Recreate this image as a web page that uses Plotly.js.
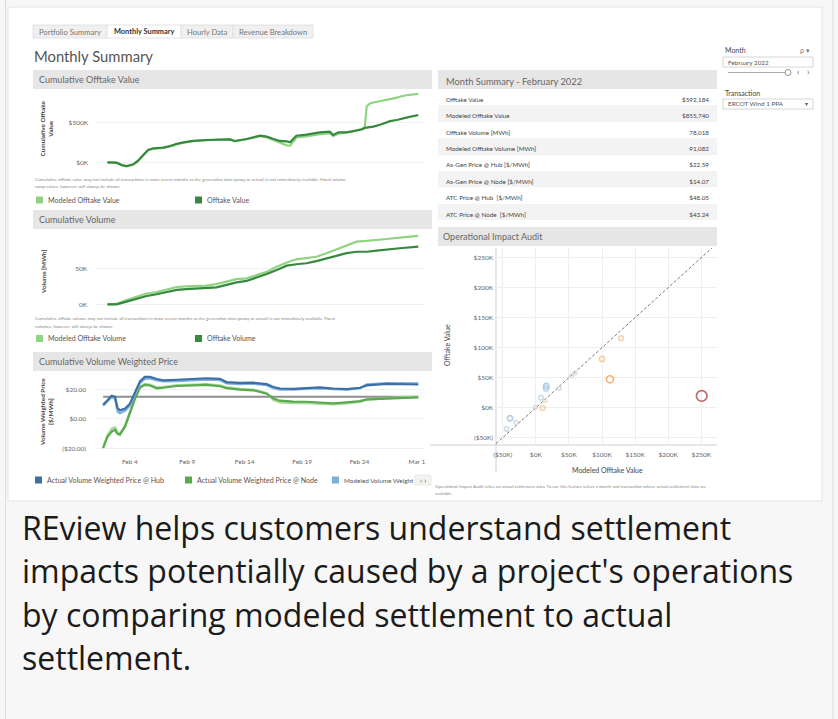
<!DOCTYPE html>
<html><head><meta charset="utf-8">
<script src="https://cdn.plot.ly/plotly-3.0.1.min.js"></script>
<style>html,body{margin:0;padding:0;background:#f7f7f7;}#chart{width:838px;height:719px;}</style>
</head><body><div id="chart"></div>
<script>
// ---------------- DATA ----------------
const valueDates = ['2022-02-02 01:00','2022-02-02 20:00','2022-02-03 07:00','2022-02-03 17:00','2022-02-04 07:00','2022-02-04 17:00','2022-02-05 04:00','2022-02-05 14:00','2022-02-06 01:00','2022-02-06 22:00','2022-02-07 12:00','2022-02-08 02:00','2022-02-08 16:00','2022-02-09 12:00','2022-02-10 16:00','2022-02-11 20:00','2022-02-12 17:00','2022-02-13 03:00','2022-02-14 04:00','2022-02-15 08:00','2022-02-15 22:00','2022-02-16 12:00','2022-02-17 02:00','2022-02-17 16:00','2022-02-17 23:00','2022-02-18 12:00','2022-02-19 09:00','2022-02-20 13:00','2022-02-21 10:00','2022-02-21 17:00','2022-02-22 04:00','2022-02-22 21:00','2022-02-23 11:00','2022-02-24 04:00','2022-02-24 11:00','2022-02-24 15:00','2022-02-24 22:00','2022-02-25 05:00','2022-02-25 19:00','2022-02-26 09:00','2022-02-26 16:00','2022-02-27 06:00','2022-02-27 12:00','2022-02-28 02:00','2022-03-01 03:00'];
const modeledOfftakeValue = [0,-6000,-38000,-52000,-30000,15000,88000,150000,172000,180000,200000,225000,245000,265000,278000,285000,286000,262000,288000,328000,315000,280000,238000,212000,208000,310000,325000,352000,362000,330000,358000,368000,385000,415000,430000,700000,735000,748000,762000,780000,790000,808000,820000,838000,855000];
const offtakeValue = [0,-4000,-33000,-46000,-25000,21000,92000,154000,175000,183000,204000,232000,250000,267000,279000,287000,287000,267000,292000,333000,321000,292000,267000,262000,250000,333000,346000,375000,383000,342000,375000,375000,392000,410000,430000,433000,440000,446000,470000,500000,515000,529000,540000,558000,592000];

const volumeDates = ['2022-02-02 01:00','2022-02-02 20:00','2022-02-03 17:00','2022-02-04 14:00','2022-02-05 11:00','2022-02-06 08:00','2022-02-07 05:00','2022-02-08 02:00','2022-02-08 22:00','2022-02-09 19:00','2022-02-10 16:00','2022-02-11 13:00','2022-02-12 10:00','2022-02-13 07:00','2022-02-14 04:00','2022-02-15 01:00','2022-02-15 22:00','2022-02-16 19:00','2022-02-17 16:00','2022-02-18 12:00','2022-02-19 09:00','2022-02-20 06:00','2022-02-21 03:00','2022-02-22 00:00','2022-02-22 21:00','2022-02-23 18:00','2022-02-24 15:00','2022-02-25 12:00','2022-02-26 09:00','2022-02-27 12:00','2022-03-01 03:00'];
const modeledOfftakeVolume = [0,500,6000,10600,15000,17000,21000,24000,25000,25500,26000,28000,31000,35000,36000,40000,45000,52000,58000,62500,64000,66000,71000,76000,81000,87000,88000,89000,90700,92600,95000];
const offtakeVolume = [0,0,3700,8000,11500,14000,16700,20000,21000,22000,22000,23600,27000,30500,32400,37000,42000,47700,53700,55600,57000,60000,64000,68000,71000,73000,73000,74500,76400,77800,80000];

const priceDates = ['2022-02-01 16:00','2022-02-02 01:00','2022-02-02 10:00','2022-02-02 17:00','2022-02-02 22:00','2022-02-03 03:00','2022-02-03 14:00','2022-02-04 00:00','2022-02-04 10:00','2022-02-04 21:00','2022-02-05 07:00','2022-02-05 18:00','2022-02-06 08:00','2022-02-06 22:00','2022-02-08 02:00','2022-02-09 12:00','2022-02-10 16:00','2022-02-11 20:00','2022-02-12 10:00','2022-02-13 14:00','2022-02-14 18:00','2022-02-15 22:00','2022-02-16 12:00','2022-02-17 02:00','2022-02-18 05:00','2022-02-19 09:00','2022-02-20 13:00','2022-02-21 17:00','2022-02-22 21:00','2022-02-24 01:00','2022-02-24 15:00','2022-02-26 09:00','2022-03-01 03:00'];
const hubPrice = [9.5,12.6,15.6,14.9,7.6,5.8,7.0,10.3,17.5,25.3,28.3,28.3,26.9,26.0,26.4,27.0,27.4,27.0,24.8,24.3,24.4,23.4,21.5,20.5,20.3,20.8,21.2,20.5,20.1,21.0,22.6,23.6,23.2];
const modeledHubPrice = [9.0,12.0,14.8,13.5,5.0,3.8,5.5,9.0,16.3,24.0,27.0,27.2,25.9,25.2,25.5,26.1,26.5,26.2,24.0,23.5,23.7,22.7,20.7,19.8,19.7,20.2,20.6,20.0,19.8,20.6,23.3,24.2,24.0];
const nodePrice = [-19.6,-12.0,-8.5,-7.2,-10.0,-10.5,-5.0,3.9,13.1,21.2,23.0,22.5,20.6,21.0,22.2,22.6,22.9,22.0,20.8,19.8,19.3,17.0,13.8,12.3,11.7,11.6,10.8,10.5,11.2,12.0,13.2,13.9,14.6];
const modeledNodePrice = [-19.0,-11.0,-6.5,-5.5,-9.0,-9.8,-4.2,4.5,13.8,21.8,23.6,23.2,21.3,21.6,22.8,23.2,23.5,22.6,21.3,20.3,19.8,17.5,12.8,11.2,10.6,10.6,10.0,9.8,10.5,11.5,12.8,14.0,15.0];
const fixedPriceDates = ['2022-02-01 16:00','2022-03-01 03:00'];
const fixedPrice = [15.0,15.0];
const priceTickDates = ['2022-02-04','2022-02-09','2022-02-14','2022-02-19','2022-02-24','2022-03-01'];
const priceTickLabels = ['Feb 4','Feb 9','Feb 14','Feb 19','Feb 24','Mar 1'];

const summaryLabels = ['Offtake Value','Modeled Offtake Value','Offtake Volume [MWh]','Modeled Offtake Volume [MWh]','As-Gen Price @ Hub [$/MWh]','As-Gen Price @ Node [$/MWh]','ATC Price @ Hub  [$/MWh]','ATC Price @ Node  [$/MWh]'];
const summaryValues = ['$592,184','$855,740','78,018','91,082','$22.59','$14.07','$48.05','$43.24'];

const auditModeled = [250600,112000,100000,128700,15900,15400,-39000,-44000,-30000,-800,7800,10400,14000,35500,54000,59000];
const auditOfftake = [19500,47300,81000,115700,36000,32000,-17700,-35500,-25000,700,16700,-500,11700,32300,52800,57800];
const auditRefLine = [-60000,268000];
const auditTicks = [-50000,0,50000,100000,150000,200000,250000];
const auditTickLabels = ['($50K)','$0K','$50K','$100K','$150K','$200K','$250K'];

// ---------------- HELPERS ----------------
const W = 838, H = 719;
const X = px => px / W;
const Y = py => 1 - py / H;
const F = 'Lato, "Open Sans", sans-serif';
const annotations = [];
const shapes = [];
function txt(text, x, y, size, color, opt) {
  annotations.push(Object.assign({text, x: X(x), y: Y(y), xref: 'paper', yref: 'paper', showarrow: false,
    xanchor: 'left', yanchor: 'middle', font: {family: F, size, color}}, opt || {}));
}
function rect(x0, y0, x1, y1, fill, line, lw, layer) {
  shapes.push({type: 'rect', xref: 'paper', yref: 'paper', x0: X(x0), x1: X(x1), y0: Y(y1), y1: Y(y0),
    fillcolor: fill, line: {color: line || fill, width: lw === undefined ? 0 : lw}, layer: layer || 'below'});
}
function hline(x0, x1, y, color, w) {
  shapes.push({type: 'line', xref: 'paper', yref: 'paper', x0: X(x0), x1: X(x1), y0: Y(y), y1: Y(y), line: {color, width: w || 1}, layer: 'below'});
}
function vline(x, y0, y1, color, w) {
  shapes.push({type: 'line', xref: 'paper', yref: 'paper', x0: X(x), x1: X(x), y0: Y(y0), y1: Y(y1), line: {color, width: w || 1}, layer: 'below'});
}

// page frame
vline(5.5, 0, 719, '#dcdcdc');
vline(833, 0, 719, '#dcdcdc');
rect(8, 7, 822, 501, '#ffffff', '#e4e4e4', 1);

// tabs
rect(33, 25, 107, 38, '#f0f0f0', '#dddddd', 0.8);
rect(107, 25, 181, 38, '#ffffff', '#dddddd', 0.8);
rect(181, 25, 233, 38, '#f0f0f0', '#dddddd', 0.8);
rect(233, 25, 313, 38, '#f0f0f0', '#dddddd', 0.8);
txt('Portfolio Summary', 70, 31.5, 7.6, '#777', {xanchor: 'center'});
txt('<b>Monthly Summary</b>', 144, 31.5, 7.4, '#333', {xanchor: 'center'});
txt('Hourly Data', 207, 31.5, 7.6, '#777', {xanchor: 'center'});
txt('Revenue Breakdown', 273, 31.5, 7.6, '#777', {xanchor: 'center'});

txt('Monthly Summary', 32, 56, 14.8, '#555');

// panel headers
const HB = '#e6e6e6';
rect(33, 70, 432, 89, HB);
txt('Cumulative Offtake Value', 37, 79.5, 9, '#666');
rect(33, 210, 432, 229, HB);
txt('Cumulative Volume', 37, 219.5, 9, '#666');
rect(33, 352, 432, 371, HB);
txt('Cumulative Volume Weighted Price', 37, 361.5, 9, '#666');
rect(438, 227, 717, 246, HB);
txt('Operational Impact Audit', 441, 236.5, 9, '#666');

// y titles
txt('<b>Cumulative Offtake<br>Value</b>', 46.5, 129, 6.4, '#444', {textangle: -90, xanchor: 'center'});
txt('<b>Volume [MWh]</b>', 43, 272, 6.4, '#444', {textangle: -90, xanchor: 'center'});
txt('<b>Volume Weighted Price<br>[$/MWh]</b>', 46, 412, 6.4, '#444', {textangle: -90, xanchor: 'center'});
txt('Offtake Value', 447, 345, 7, '#444', {textangle: -90, xanchor: 'center'});
txt('Modeled Offtake Value', 607, 470, 7, '#444', {xanchor: 'center'});

// footnotes
txt('Cumulative offtake value may not include all transactions in most recent months as the generation data (proxy or actual) is not immediately available. Fixed volume', 33, 180, 4.4, '#888');
txt('swap values, however, will always be shown.', 33, 186.5, 4.4, '#888');
txt('Cumulative offtake volume may not include all transactions in most recent months as the generation data (proxy or actual) is not immediately available. Fixed', 33, 318.5, 4.4, '#888');
txt('volumes, however, will always be shown.', 33, 326.5, 4.4, '#888');
txt('Operational Impact Audit relies on actual settlement data. To use this feature select a month and transaction where actual settlement data are', 433, 486.5, 4.4, '#888');
txt('available.', 433, 493, 4.4, '#888');

// legends
const cModOff = '#8fd383', cOff = '#36893f', cHub = '#3d6fa6', cNode = '#5aa84f', cModHub = '#7fb0dc', cModNode = '#a6dc98';
function legendItem(x, y, color, label, size) {
  rect(x, y - 3.5, x + 7, y + 3.5, color);
  txt(label, x + 10, y, size || 7.1, '#555');
}
legendItem(36, 200, cModOff, 'Modeled Offtake Value');
legendItem(195, 200, cOff, 'Offtake Value');
legendItem(36, 338.5, cModOff, 'Modeled Offtake Volume');
legendItem(195, 338.5, cOff, 'Offtake Volume');
legendItem(35, 480, cHub, 'Actual Volume Weighted Price @ Hub');
legendItem(185, 480, cNode, 'Actual Volume Weighted Price @ Node');
legendItem(332, 480, cModHub, 'Modeled Volume Weight', 6.4);
rect(415, 475, 431, 485, '#f2f2f2', '#dddddd', 0.6);
txt('‹ ›', 423, 480, 8, '#555', {xanchor: 'center'});

// filter panel
txt('Month', 723, 50, 7, '#444');
txt('ρ ▾', 798, 50, 7, '#777');
rect(723, 57, 813, 67, '#ffffff', '#cccccc', 0.8);
txt('February 2022', 726, 62, 6.3, '#555');
hline(728, 785, 72.5, '#aaaaaa', 1);
shapes.push({type: 'circle', xref: 'paper', yref: 'paper', x0: X(785), x1: X(791), y0: Y(75.5), y1: Y(69.5), fillcolor: '#fff', line: {color: '#777', width: 0.8}});
txt('‹', 798, 72, 8.5, '#555', {xanchor: 'center'});
txt('›', 808, 72, 8.5, '#555', {xanchor: 'center'});
txt('Transaction', 723, 93, 7, '#444');
rect(723, 99, 813, 109, '#ffffff', '#cccccc', 0.8);
txt('ERCOT Wind 1 PPA', 726, 104, 6.3, '#555');
txt('▾', 806, 104, 6, '#555', {xanchor: 'center'});

// scatter frame lines
hline(430, 717, 445, '#cfcfcf', 1);
vline(496, 248, 472, '#cfcfcf', 1);

// caption
const caption = ['REview helps customers understand settlement', "impacts potentially caused by a project's operations", 'by comparing modeled settlement to actual', 'settlement.'];
caption.forEach((c, i) => txt(c, 20, 527 + i * 43.5, 32, '#1b1b1b', {font: {family: '"Open Sans", sans-serif', size: 32, color: '#1b1b1b'}}));

// ---------------- TRACES ----------------
const line = (x, y, color, xa, ya, name, w) => ({type: 'scatter', mode: 'lines', x, y, xaxis: xa, yaxis: ya, name,
  line: {color, width: w || 2}, showlegend: false, hoverinfo: 'skip'});

const auditDiff = auditOfftake.map((v, i) => v - auditModeled[i]);
const auditSize = auditDiff.map(d => 3 + 0.5 * Math.sqrt(Math.abs(d) / 1000));

const rowFill = summaryLabels.map((_, i) => i % 2 ? '#f3f3f3' : '#ffffff');

const data = [
  line(valueDates, modeledOfftakeValue, cModOff, 'x', 'y', 'Modeled Offtake Value', 2.2),
  line(valueDates, offtakeValue, cOff, 'x', 'y', 'Offtake Value', 2.2),
  line(volumeDates, modeledOfftakeVolume, cModOff, 'x2', 'y2', 'Modeled Offtake Volume', 2.2),
  line(volumeDates, offtakeVolume, cOff, 'x2', 'y2', 'Offtake Volume', 2.2),
  line(fixedPriceDates, fixedPrice, '#8e8e8e', 'x3', 'y3', 'Fixed Price', 2),
  line(priceDates, modeledNodePrice, cModNode, 'x3', 'y3', 'Modeled Volume Weighted Price @ Node', 2.2),
  line(priceDates, nodePrice, cNode, 'x3', 'y3', 'Actual Volume Weighted Price @ Node', 2.2),
  line(priceDates, modeledHubPrice, cModHub, 'x3', 'y3', 'Modeled Volume Weighted Price @ Hub', 2.2),
  line(priceDates, hubPrice, cHub, 'x3', 'y3', 'Actual Volume Weighted Price @ Hub', 2.2),
  {type: 'scatter', mode: 'lines', x: auditRefLine, y: auditRefLine, xaxis: 'x4', yaxis: 'y4',
    line: {color: '#7a7a7a', width: 1, dash: '3px,2px'}, showlegend: false, hoverinfo: 'skip'},
  {type: 'scatter', mode: 'markers', x: auditModeled, y: auditOfftake, xaxis: 'x4', yaxis: 'y4', showlegend: false,
    marker: {symbol: 'circle-open', size: auditSize, color: auditDiff, cmin: -240000, cmax: 240000,
      colorscale: [[0, '#9c2f2c'], [0.1, '#b8413a'], [0.3, '#ee7d2a'], [0.4, '#f39b4a'], [0.47, '#f8c08a'], [0.5, '#d5d5d5'], [0.53, '#a9cbe6'], [0.56, '#74a9d8'], [1, '#2a5d95']],
      line: {width: 1.7}}},
  {type: 'table', domain: {x: [X(438), X(717)], y: [Y(226), Y(70)]}, columnwidth: [200, 79],
    header: {values: ['Month Summary - February 2022', ''], align: 'left', height: 19,
      fill: {color: HB}, line: {width: 0, color: HB}, font: {family: F, size: 9.3, color: '#666'}},
    cells: {values: [summaryLabels, summaryValues], align: ['left', 'right'], height: 16.4,
      fill: {color: [rowFill, rowFill]}, line: {width: 0, color: '#ffffff'}, font: {family: F, size: 6.3, color: '#444'}}}
];

const xRange = ['2022-01-31 23:00', '2022-03-01 17:00'];
const tf = {family: F, size: 6.5, color: '#666'};
const hiddenX = d => ({domain: d, type: 'date', range: xRange, showticklabels: false, showgrid: false, zeroline: false, showline: false, fixedrange: true});
const lineDom = [X(95), X(425)];

const layout = {
  width: W, height: H, margin: {l: 0, r: 0, t: 0, b: 0}, paper_bgcolor: '#f7f7f7', plot_bgcolor: 'rgba(0,0,0,0)',
  showlegend: false, font: {family: F},
  xaxis: Object.assign(hiddenX(lineDom), {anchor: 'y'}),
  yaxis: {domain: [Y(172), Y(90)], range: [-121000, 904000], anchor: 'x', tickvals: [0, 500000], ticktext: ['$0K', '$500K'],
    tickfont: tf, gridcolor: '#f1f1f1', zeroline: false, ticklabelstandoff: 6},
  xaxis2: Object.assign(hiddenX(lineDom), {anchor: 'y2'}),
  yaxis2: {domain: [Y(312), Y(232)], range: [-10700, 100400], anchor: 'x2', tickvals: [0, 50000], ticktext: ['0K', '50K'],
    tickfont: tf, gridcolor: '#f1f1f1', zeroline: false, ticklabelstandoff: 7},
  xaxis3: {domain: lineDom, anchor: 'y3', type: 'date', range: xRange, tickvals: priceTickDates, ticktext: priceTickLabels,
    tickfont: tf, showgrid: false, zeroline: false, ticklabelstandoff: 4},
  yaxis3: {domain: [Y(452), Y(372)], range: [-22.2, 31.6], anchor: 'x3', tickvals: [-20, 0, 20], ticktext: ['($20.00)', '$0.00', '$20.00'],
    tickfont: tf, gridcolor: '#f1f1f1', zeroline: false, ticklabelstandoff: 8},
  xaxis4: {domain: [X(496), X(717)], anchor: 'y4', range: [-60100, 273700], tickvals: auditTicks, ticktext: auditTickLabels,
    tickfont: tf, gridcolor: '#eeeeee', zeroline: false, ticklabelstandoff: 4},
  yaxis4: {domain: [Y(445), Y(248)], anchor: 'x4', range: [-62200, 266000], tickvals: auditTicks, ticktext: auditTickLabels,
    tickfont: tf, gridcolor: '#eeeeee', zeroline: false, ticklabelstandoff: 2},
  shapes, annotations
};

Plotly.newPlot('chart', data, layout, {staticPlot: true, displayModeBar: false});
</script></body></html>
